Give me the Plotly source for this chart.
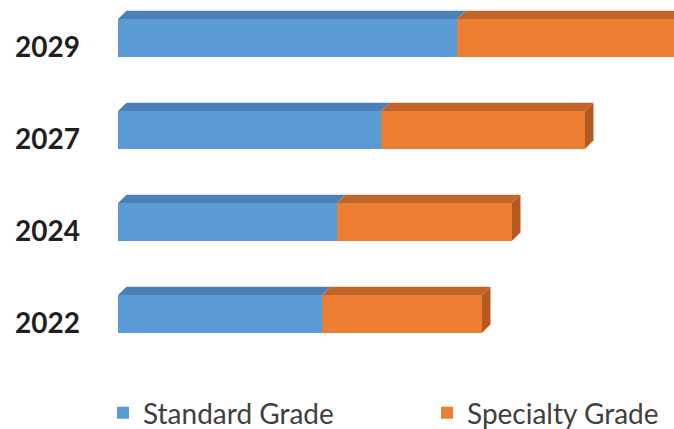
import plotly.graph_objects as go

years = ["2022", "2024", "2027", "2029"]
standard = [20.4, 21.9, 26.3, 33.9]
specialty = [16.0, 17.5, 20.4, 25.0]
series_names = ["Standard Grade", "Specialty Grade"]

front_colors = ["#5B9BD5", "#ED7D31"]
top_colors = ["#4A80B6", "#C0662B"]
side_color = "#B25A22"

pos = list(range(len(years)))
bar_w = 0.41
dx = 0.85
dy = 0.09

fig = go.Figure()

fig.add_trace(go.Bar(y=pos, x=standard, orientation="h", width=bar_w,
                     marker=dict(color=front_colors[0], line=dict(width=0)),
                     name=series_names[0], legend="legend"))
fig.add_trace(go.Bar(y=pos, x=specialty, orientation="h", width=bar_w,
                     marker=dict(color=front_colors[1], line=dict(width=0)),
                     name=series_names[1], legend="legend2"))

# 3D top faces and side faces, built from the data values
def top_face(starts, ends):
    xs, ys = [], []
    for p, a, b in zip(pos, starts, ends):
        yt = p + bar_w / 2
        xs += [a, b, b + dx, a + dx, a, None]
        ys += [yt, yt, yt + dy, yt + dy, yt, None]
    return xs, ys

zeros = [0] * len(years)
totals = [s + o for s, o in zip(standard, specialty)]

for starts, ends, col in [(zeros, standard, top_colors[0]), (standard, totals, top_colors[1])]:
    xs, ys = top_face(starts, ends)
    fig.add_trace(go.Scatter(x=xs, y=ys, mode="lines", fill="toself", fillcolor=col,
                             line=dict(width=0, color=col), showlegend=False, hoverinfo="skip"))

sx, sy = [], []
for p, t in zip(pos, totals):
    yt = p + bar_w / 2
    yb = p - bar_w / 2
    sx += [t, t, t + dx, t + dx, t, None]
    sy += [yb, yt, yt + dy, yb + dy, yb, None]
fig.add_trace(go.Scatter(x=sx, y=sy, mode="lines", fill="toself", fillcolor=side_color,
                         line=dict(width=0, color=side_color), showlegend=False, hoverinfo="skip"))

W, H = 674, 429
legend_style = dict(orientation="h", xref="container", yref="container", y=16 / H,
                    xanchor="left", yanchor="middle",
                    font=dict(family="Lato", size=28, color="#404040"),
                    bgcolor="rgba(0,0,0,0)")

fig.update_layout(
    width=W, height=H,
    barmode="stack",
    paper_bgcolor="white", plot_bgcolor="white",
    margin=dict(l=118, r=0, t=1, b=69, autoexpand=False),
    font=dict(family="Lato", color="#404040"),
    xaxis=dict(range=[0, 55.6], visible=False, fixedrange=True, automargin=False),
    yaxis=dict(range=[-0.5, 3.4], tickvals=[p - 0.1 for p in pos], ticktext=years,
               showgrid=False, zeroline=False, showline=False, automargin=False,
               ticks="", ticklabelstandoff=37, fixedrange=True,
               tickfont=dict(family="Lato", size=28, color="#1f1f1f", weight="bold")),
    legend=dict(x=103 / W, **legend_style),
    legend2=dict(x=427 / W, **legend_style),
    showlegend=True,
    hovermode=False,
)

fig.write_html("out.html",
               config={"displayModeBar": False, "staticPlot": True},
               post_script="document.body.style.margin='0';document.body.style.overflow='hidden';")
